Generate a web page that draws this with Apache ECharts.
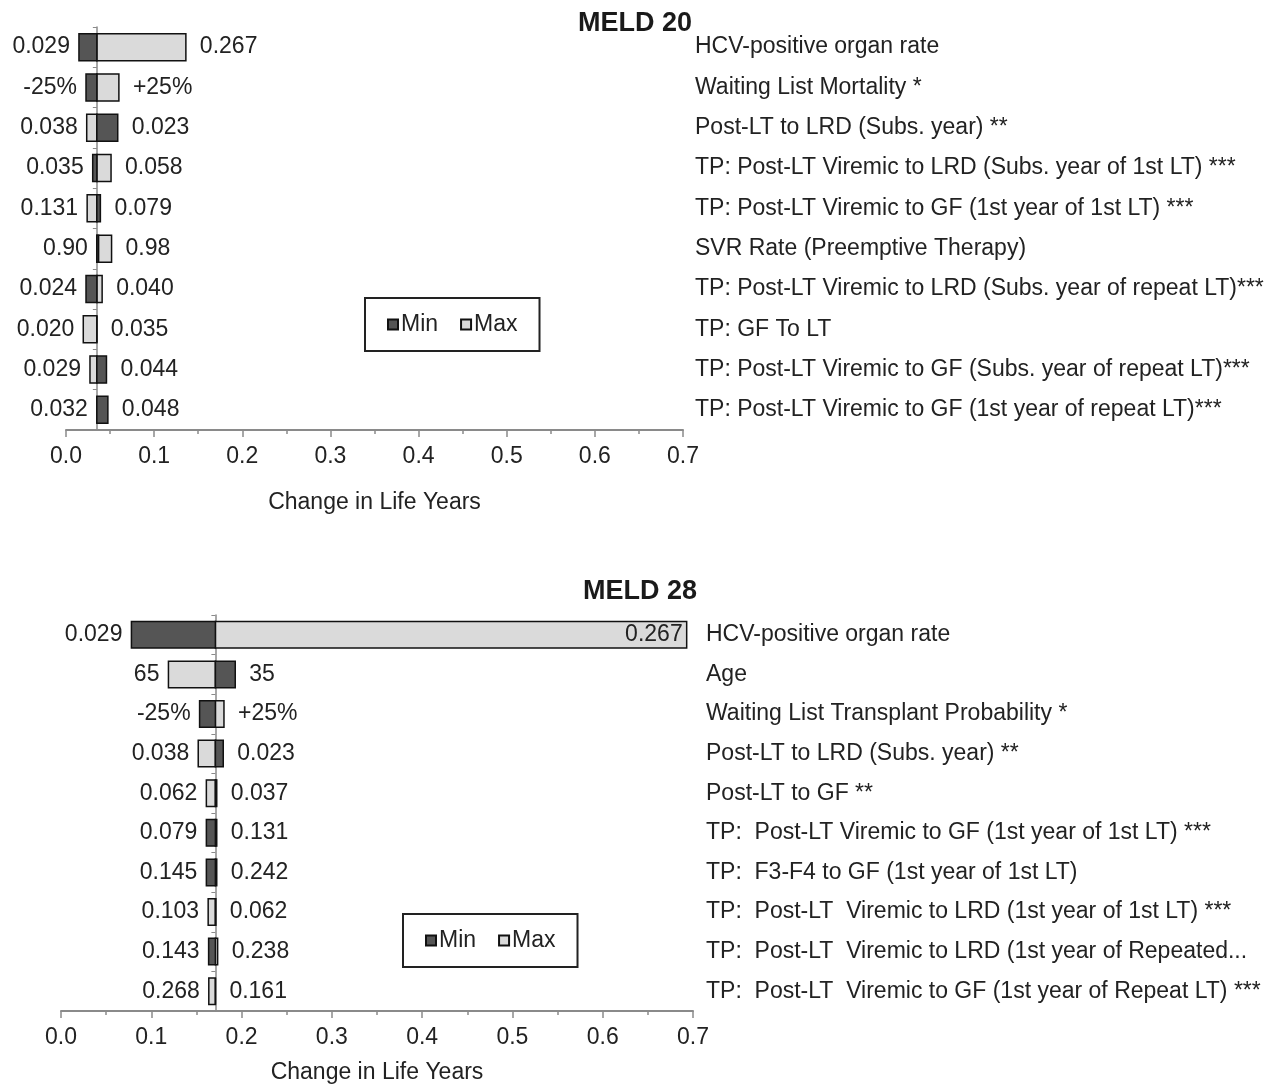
<!DOCTYPE html>
<html>
<head>
<meta charset="utf-8">
<script src="https://cdn.jsdelivr.net/npm/echarts@6/dist/echarts.min.js"></script>
<style>
  html, body { margin: 0; padding: 0; background: #fff; }
  #chart { width: 1284px; height: 1087px; }
</style>
</head>
<body>
<div id="chart"></div>
<script>
// MELD 20 tornado
const meld20Labels = [
  'HCV-positive organ rate',
  'Waiting List Mortality *',
  'Post-LT to LRD (Subs. year) **',
  'TP: Post-LT Viremic to LRD (Subs. year of 1st LT) ***',
  'TP: Post-LT Viremic to GF (1st year of 1st LT) ***',
  'SVR Rate (Preemptive Therapy)',
  'TP: Post-LT Viremic to LRD (Subs. year of repeat LT)***',
  'TP: GF To LT',
  'TP: Post-LT Viremic to GF (Subs. year of repeat LT)***',
  'TP: Post-LT Viremic to GF (1st year of repeat LT)***'
]
const meld20Left = ['0.029', '-25%', '0.038', '0.035', '0.131', '0.90', '0.024', '0.020', '0.029', '0.032']
const meld20Right = ['0.267', '+25%', '0.023', '0.058', '0.079', '0.98', '0.040', '0.035', '0.044', '0.048']
const meld20Min = [0.0147, 0.0227, 0.0587, 0.0303, 0.039, 0.037, 0.0227, 0.035, 0.0459, 0.0475]
const meld20Max = [0.136, 0.060, 0.0235, 0.0511, 0.024, 0.0517, 0.041, 0.0196, 0.0272, 0.035]
const meld20Base = 0.035

// MELD 28 tornado
const meld28Labels = [
  'HCV-positive organ rate',
  'Age',
  'Waiting List Transplant Probability *',
  'Post-LT to LRD (Subs. year) **',
  'Post-LT to GF **',
  'TP:  Post-LT Viremic to GF (1st year of 1st LT) ***',
  'TP:  F3-F4 to GF (1st year of 1st LT)',
  'TP:  Post-LT  Viremic to LRD (1st year of 1st LT) ***',
  'TP:  Post-LT  Viremic to LRD (1st year of Repeated...',
  'TP:  Post-LT  Viremic to GF (1st year of Repeat LT) ***'
]
const meld28Left = ['0.029', '65', '-25%', '0.038', '0.062', '0.079', '0.145', '0.103', '0.143', '0.268']
const meld28Right = ['0.267', '35', '+25%', '0.023', '0.037', '0.131', '0.242', '0.062', '0.238', '0.161']
const meld28Min = [0.078, 0.193, 0.1535, 0.1797, 0.1725, 0.161, 0.161, 0.1715, 0.1635, 0.171]
const meld28Max = [0.693, 0.119, 0.1805, 0.152, 0.161, 0.1725, 0.1725, 0.163, 0.1735, 0.1637]
const meld28Base = 0.171

const FONT = '"Liberation Sans", Arial, sans-serif'
const FS = 23
const INK = '#222'
const DARK = '#555'
const LIGHT = '#dadada'

const grids = [
  { left: 66, width: 617, top: 27, height: 403 },
  { left: 61, width: 632, top: 615, height: 396 }
]

function barSeries(name, gi, values, base, color) {
  return {
    name: name,
    type: 'custom',
    xAxisIndex: gi,
    yAxisIndex: gi * 2,
    itemStyle: { color: color, borderColor: '#111', borderWidth: 1.5 },
    data: values.map(function(v, i) { return [v, i] }),
    renderItem: function(params, api) {
      const p0 = api.coord([base, api.value(1)])
      const p1 = api.coord([api.value(0), api.value(1)])
      const h = api.size([0, 1])[1] * 0.67
      return {
        type: 'rect',
        shape: { x: Math.min(p0[0], p1[0]), y: p0[1] - h / 2, width: Math.abs(p1[0] - p0[0]), height: h },
        style: { fill: color, stroke: '#111', lineWidth: 1.5 }
      }
    }
  }
}

function labelSeries(gi, mins, maxs, base, leftTxt, rightTxt) {
  const g = grids[gi]
  return {
    type: 'custom',
    xAxisIndex: gi,
    yAxisIndex: gi * 2,
    silent: true,
    data: mins.map(function(v, i) {
      return [Math.min(v, maxs[i], base), Math.max(v, maxs[i], base), i]
    }),
    renderItem: function(params, api) {
      const i = api.value(2)
      const lo = api.coord([api.value(0), i])
      const hi = api.coord([api.value(1), i])
      const inside = hi[0] > g.left + g.width - 60
      const font = { fontSize: FS, fontFamily: FONT, fill: INK, verticalAlign: 'middle' }
      return {
        type: 'group',
        children: [
          { type: 'text', x: lo[0] - 9, y: lo[1], style: Object.assign({ text: leftTxt[i], align: 'right' }, font) },
          { type: 'text', x: inside ? hi[0] - 4 : hi[0] + 14, y: hi[1],
            style: Object.assign({ text: rightTxt[i], align: inside ? 'right' : 'left' }, font) }
        ]
      }
    }
  }
}

function xAxisFor(gi, nameGap) {
  return {
    type: 'value',
    gridIndex: gi,
    min: 0,
    max: 0.7,
    interval: 0.1,
    name: 'Change in Life Years',
    nameLocation: 'middle',
    nameGap: nameGap,
    nameTextStyle: { fontSize: FS, fontFamily: FONT, color: INK },
    axisLine: { show: true, lineStyle: { color: '#8a8a8a', width: 2 } },
    axisTick: { show: true, length: 7, lineStyle: { color: '#8a8a8a', width: 1.5 } },
    minorTick: { show: true, splitNumber: 2, length: 4, lineStyle: { color: '#8a8a8a', width: 1.5 } },
    splitLine: { show: false },
    axisLabel: {
      margin: 15,
      fontSize: FS,
      fontFamily: FONT,
      color: INK,
      formatter: function(v) { return v.toFixed(1) }
    }
  }
}

function yAxesFor(gi, labels, base, margin) {
  const g = grids[gi]
  return [
    {
      type: 'category',
      gridIndex: gi,
      position: 'right',
      inverse: true,
      data: labels,
      axisLine: { show: false },
      axisTick: { show: false },
      axisLabel: { margin: margin, fontSize: FS, fontFamily: FONT, color: INK, align: 'left' }
    },
    {
      type: 'category',
      gridIndex: gi,
      position: 'left',
      inverse: true,
      data: labels,
      offset: -(base / 0.7) * g.width,
      axisLine: { show: true, lineStyle: { color: '#8a8a8a', width: 1.5 } },
      axisTick: { show: true, length: 4, lineStyle: { color: '#8a8a8a' } },
      axisLabel: { show: false }
    }
  ]
}

function legendAt(left, top) {
  return {
    left: left,
    top: top,
    data: ['Min', 'Max'],
    icon: 'rect',
    itemWidth: 10,
    itemHeight: 10,
    itemGap: 22,
    padding: [15, 22, 15, 22],
    borderColor: '#222',
    borderWidth: 2,
    textStyle: { fontSize: FS, fontFamily: FONT, color: INK, padding: [0, 0, 0, -2] },
    selectedMode: false
  }
}

const chart = echarts.init(document.getElementById('chart'))
chart.setOption({
  animation: false,
  title: [
    { text: 'MELD 20', left: 630, top: 5, textAlign: 'center',
      textStyle: { fontSize: 27, fontWeight: 'bold', fontFamily: FONT, color: '#1a1a1a' } },
    { text: 'MELD 28', left: 635, top: 573, textAlign: 'center',
      textStyle: { fontSize: 27, fontWeight: 'bold', fontFamily: FONT, color: '#1a1a1a' } }
  ],
  legend: [legendAt(365, 298), legendAt(403, 914)],
  grid: grids,
  xAxis: [xAxisFor(0, 61), xAxisFor(1, 50)],
  yAxis: yAxesFor(0, meld20Labels, meld20Base, 12).concat(yAxesFor(1, meld28Labels, meld28Base, 13)),
  series: [
    barSeries('Max', 0, meld20Max, meld20Base, LIGHT),
    barSeries('Min', 0, meld20Min, meld20Base, DARK),
    labelSeries(0, meld20Min, meld20Max, meld20Base, meld20Left, meld20Right),
    barSeries('Max', 1, meld28Max, meld28Base, LIGHT),
    barSeries('Min', 1, meld28Min, meld28Base, DARK),
    labelSeries(1, meld28Min, meld28Max, meld28Base, meld28Left, meld28Right)
  ]
})
</script>
</body>
</html>
